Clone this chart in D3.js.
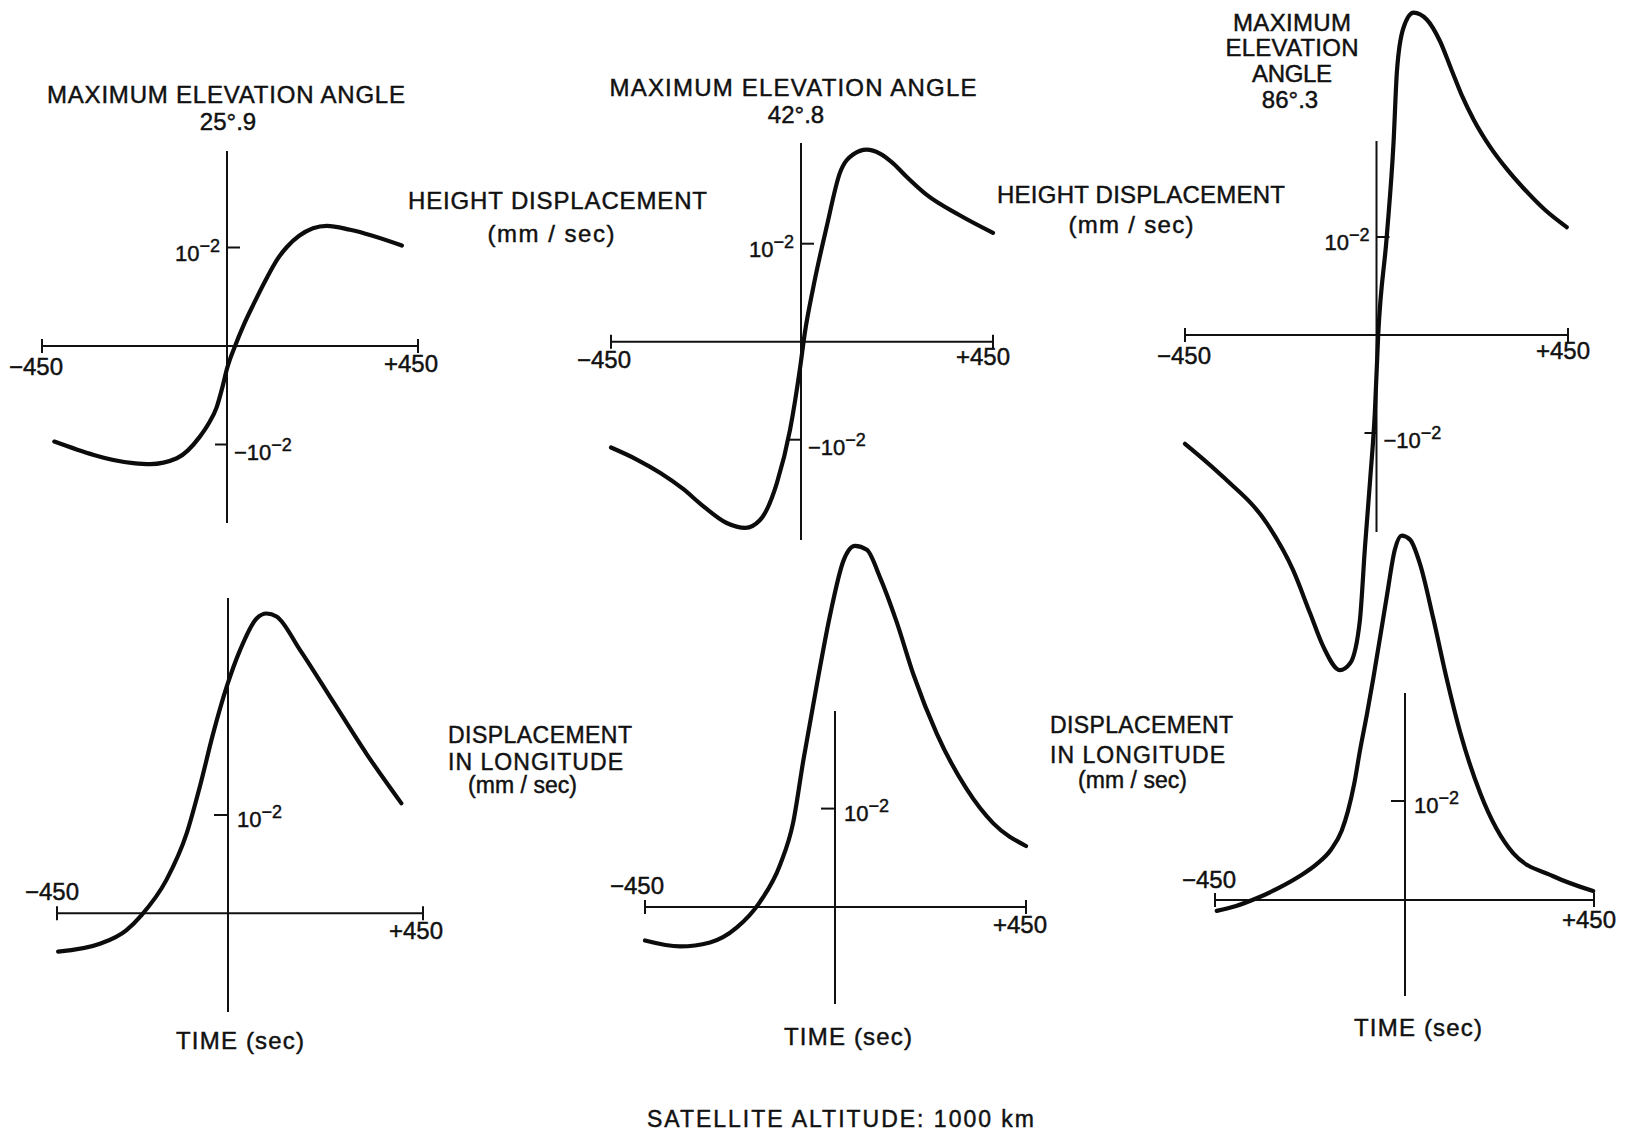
<!DOCTYPE html>
<meta charset="utf-8">
<style>
body { margin: 0; background: #fff; }
text { font-family: "Liberation Sans", Arial, sans-serif; fill: #111; stroke: #111; stroke-width: 0.45px; }
.axis { stroke: #111; stroke-width: 2; fill: none; }
.curve { stroke: #0c0c0c; stroke-width: 4.2; fill: none; stroke-linecap: round; stroke-linejoin: round; }
</style>
<body>
<script src="https://d3js.org/d3.v7.min.js"></script>
<script>

// time in sec, values in units of 10^-2 mm/sec

// height displacement, max elevation 25.9
var heightT_259 = [-420, -228, -187, -122, -66, -45, -25, -10, 0, 19, 40, 62, 90, 117, 140, 170, 235, 290, 412];
var heightV_259 = [-0.97, -1.19, -1.20, -1.14, -0.92, -0.79, -0.62, -0.40, -0.23, 0, 0.22, 0.42, 0.66, 0.87, 1.00, 1.12, 1.22, 1.18, 1.02];

// height displacement, max elevation 42.8
var heightT_428 = [-450, -390, -333, -280, -231, -176, -132, -97, -57, -26, -2, 9, 29, 60, 91, 122, 154, 185, 216, 248, 294, 372, 450];
var heightV_428 = [-1.08, -1.20, -1.34, -1.50, -1.68, -1.85, -1.90, -1.82, -1.44, -0.90, -0.26, 0.09, 0.56, 1.17, 1.72, 1.91, 1.96, 1.92, 1.82, 1.68, 1.50, 1.29, 1.11];

// height displacement, max elevation 86.3
var heightT_863 = [-450, -360, -258, -196, -156, -125, -86, -62, -39, -27, -15, -4, 4, 24, 40, 48, 63, 87, 118, 149, 175, 200, 228, 267, 305, 345, 395, 447];
var heightV_863 = [-1.11, -1.45, -1.92, -2.40, -2.84, -3.18, -3.42, -3.35, -2.91, -2.16, -1.48, -0.80, 0, 1.00, 1.96, 2.69, 3.13, 3.29, 3.22, 3.00, 2.72, 2.45, 2.20, 1.92, 1.70, 1.50, 1.28, 1.10];

// displacement in longitude, max elevation 25.9
var lonT_259 = [-447, -337, -267, -228, -162, -109, -74, -39, -3, 28, 66, 89, 112, 166, 243, 320, 400];
var lonV_259 = [-0.39, -0.31, -0.17, -0.02, 0.34, 0.81, 1.29, 1.83, 2.31, 2.68, 3.00, 3.05, 3.02, 2.68, 2.15, 1.62, 1.12];

// displacement in longitude, max elevation 42.8
var lonT_428 = [-450, -367, -296, -233, -178, -130, -99, -75, -43, -12, 20, 47, 75, 106, 145, 185, 240, 310, 373, 450];
var lonV_428 = [-0.34, -0.40, -0.36, -0.21, 0.05, 0.43, 0.86, 1.49, 2.26, 2.96, 3.52, 3.67, 3.63, 3.35, 2.90, 2.36, 1.76, 1.20, 0.85, 0.62];

// displacement in longitude, max elevation 86.3
var lonT_863 = [-446, -400, -350, -300, -250, -210, -175, -150, -135, -120, -107, -90, -75, -43, -24, -8, 12, 36, 67, 99, 131, 179, 258, 353, 448];
var lonV_863 = [-0.11, -0.06, 0.02, 0.12, 0.24, 0.36, 0.51, 0.70, 0.90, 1.18, 1.50, 1.88, 2.24, 3.07, 3.54, 3.68, 3.64, 3.39, 2.85, 2.24, 1.70, 1.08, 0.47, 0.24, 0.09];

var xTickLabels = ["\u2212450", "+450"];
var angles = ["25\u00b0.9", "42\u00b0.8", "86\u00b0.3"];
var timeLabel = "TIME (sec)";
var footer = "SATELLITE ALTITUDE: 1000 km";

// panel layout (pixel frame of each hand drawn plot)
var panels = [
  {t: heightT_259, v: heightV_259, xr: [42, 227, 418], y0: 346, unit: 98.5, ax: [151, 523], bottom: false,
   lblM: [36, 375], lblP: [411, 372]},
  {t: heightT_428, v: heightV_428, xr: [611, 801, 993], y0: 341.7, unit: 98, ax: [143, 540], bottom: false,
   lblM: [604, 368], lblP: [983, 365]},
  {t: heightT_863, v: heightV_863, xr: [1185, 1376.5, 1568], y0: 335, unit: 98, ax: [141, 532], bottom: false,
   lblM: [1184, 364], lblP: [1563, 359]},
  {t: lonT_259, v: lonV_259, xr: [57, 228, 423], y0: 913.3, unit: 98.3, ax: [598, 1012], bottom: true,
   lblM: [52, 900], lblP: [416, 939], time: [240, 1049]},
  {t: lonT_428, v: lonV_428, xr: [645, 835, 1026], y0: 907, unit: 98.4, ax: [711, 1004], bottom: true,
   lblM: [637, 894], lblP: [1020, 933], time: [848, 1045]},
  {t: lonT_863, v: lonV_863, xr: [1215, 1405, 1594], y0: 900, unit: 99, ax: [693, 996], bottom: true,
   lblM: [1209, 888], lblP: [1589, 928], time: [1418, 1036]}
];

var svg = d3.select("body").append("svg")
    .attr("width", 1628)
    .attr("height", 1137);

function powLabel(sel, neg) {
  sel.append("tspan").text(neg ? "\u221210" : "10");
  sel.append("tspan").attr("dy", -9).style("font-size", "18px").text("\u22122");
}

panels.forEach(function(p) {
  var x = d3.scaleLinear().domain([-450, 0, 450]).range(p.xr);
  var y = d3.scaleLinear().domain([0, 1]).range([p.y0, p.y0 - p.unit]);
  var g = svg.append("g");

  // time axis with end marks
  g.append("line").attr("class", "axis")
      .attr("x1", x(-450)).attr("x2", x(450)).attr("y1", y(0)).attr("y2", y(0));
  [-450, 450].forEach(function(d) {
    g.append("line").attr("class", "axis")
        .attr("x1", x(d)).attr("x2", x(d)).attr("y1", y(0) - 7).attr("y2", y(0) + 7);
  });
  g.append("text").attr("x", p.lblM[0]).attr("y", p.lblM[1])
      .attr("text-anchor", "middle").style("font-size", "24px").text(xTickLabels[0]);
  g.append("text").attr("x", p.lblP[0]).attr("y", p.lblP[1])
      .attr("text-anchor", "middle").style("font-size", "24px").text(xTickLabels[1]);

  // value axis at t = 0
  g.append("line").attr("class", "axis")
      .attr("x1", x(0)).attr("x2", x(0)).attr("y1", p.ax[0]).attr("y2", p.ax[1]);

  if (!p.bottom) {
    g.append("line").attr("class", "axis")
        .attr("x1", x(0)).attr("x2", x(0) + 13).attr("y1", y(1)).attr("y2", y(1));
    g.append("line").attr("class", "axis")
        .attr("x1", x(0) - 12).attr("x2", x(0)).attr("y1", y(-1)).attr("y2", y(-1));
    g.append("text").attr("x", x(0) - 7).attr("y", y(1) + 13)
        .attr("text-anchor", "end").style("font-size", "22px").call(powLabel, false);
    g.append("text").attr("x", x(0) + 7).attr("y", y(-1) + 15)
        .style("font-size", "22px").call(powLabel, true);
  } else {
    g.append("line").attr("class", "axis")
        .attr("x1", x(0) - 14).attr("x2", x(0)).attr("y1", y(1)).attr("y2", y(1));
    g.append("text").attr("x", x(0) + 9).attr("y", y(1) + 12)
        .style("font-size", "22px").call(powLabel, false);
    g.append("text").attr("x", p.time[0]).attr("y", p.time[1])
        .attr("text-anchor", "middle").attr("textLength", 128).attr("lengthAdjust", "spacing")
        .style("font-size", "24px").text(timeLabel);
  }

  var line = d3.line()
      .x(function(d, i) { return x(p.t[i]); })
      .y(function(d) { return y(d); })
      .curve(d3.curveMonotoneX);

  g.append("path").datum(p.v).attr("class", "curve").attr("d", line);
});

// titles and side captions
function label(txt, xp, yp, w, anchor, size) {
  var t = svg.append("text").attr("x", xp).attr("y", yp)
      .attr("text-anchor", anchor || "start")
      .style("font-size", (size || 24) + "px").text(txt);
  if (w) t.attr("textLength", w).attr("lengthAdjust", "spacing");
  return t;
}

label("MAXIMUM ELEVATION ANGLE", 226, 103, 358, "middle");
label(angles[0], 228, 130, 0, "middle");
label("MAXIMUM ELEVATION ANGLE", 793, 96, 367, "middle");
label(angles[1], 796, 123, 0, "middle");
label("MAXIMUM", 1292, 31, 118, "middle");
label("ELEVATION", 1292, 56, 133, "middle");
label("ANGLE", 1292, 82, 80, "middle");
label(angles[2], 1290, 108, 0, "middle");

label("HEIGHT DISPLACEMENT", 408, 209, 299);
label("(mm / sec)", 551, 242, 127, "middle");
label("HEIGHT DISPLACEMENT", 997, 203, 288);
label("(mm / sec)", 1131, 233, 125, "middle");

label("DISPLACEMENT", 448, 743, 184, "start", 23);
label("IN LONGITUDE", 448, 770, 175, "start", 23);
label("(mm / sec)", 468, 793, 109, "start", 23);
label("DISPLACEMENT", 1050, 733, 183, "start", 23);
label("IN LONGITUDE", 1050, 763, 175, "start", 23);
label("(mm / sec)", 1078, 788, 109, "start", 23);

label(footer, 647, 1127, 387, "start", 23);

</script>
</body>
